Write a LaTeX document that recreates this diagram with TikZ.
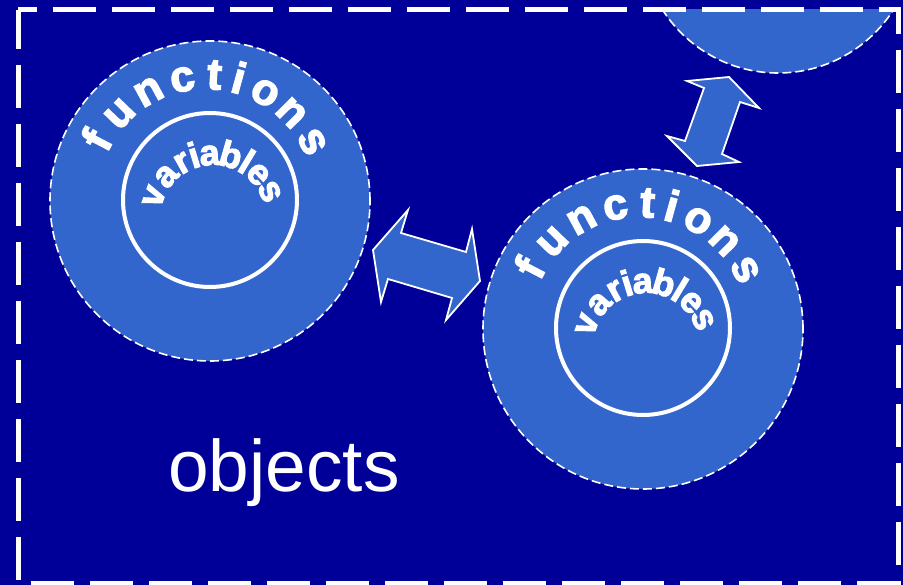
\documentclass[tikz,border=0pt]{standalone}
\usepackage{fontspec}
\setmainfont{Liberation Sans}
\newfontfamily\wordart{Liberation Sans}[BoldFeatures={FakeBold=3}]
\definecolor{bgblue}{RGB}{0,0,153}
\definecolor{discblue}{RGB}{51,102,204}
\tikzset{
  disc/.style={circle, inner sep=0pt, fill=discblue, draw=white, line width=1.6pt,
    dash pattern=on 9pt off 4pt},
  core/.style={circle, inner sep=0pt, draw=white, line width=4pt},
  link/.style={fill=discblue, draw=white, line width=1.8pt, line join=miter},
  frame/.style={draw=white, line width=5pt, dash pattern=on 43pt off 16pt, dash phase=4pt},
  fnletter/.style={text=white, inner sep=0pt, anchor=base,
    font=\wordart\bfseries\fontsize{44}{44}\selectfont},
  varletter/.style={text=white, inner sep=0pt, anchor=base,
    font=\wordart\bfseries\fontsize{36}{36}\selectfont},
  caption/.style={text=white, inner sep=0pt, anchor=base,
    font=\fontsize{73}{73}\selectfont}
}
\newcommand{\arcword}[4]{% style, centre, radius, letter/angle list
  \foreach \ch/\ang in {#4}{
    \node[#1, rotate=\ang-90] at ([shift={(\ang:#3)}]#2) {\ch};
  }%
}
\begin{document}
\begin{tikzpicture}[x=1pt, y=1pt]
  \useasboundingbox (0,0) rectangle (903,-585);
  \fill[bgblue] (0,0) rectangle (903,-585);

  % partly hidden class at the top right
  \begin{scope}
    \clip (0,-10) rectangle (903,-585);
    \node[disc, minimum size=274pt] (discC) at (778,64) {};
  \end{scope}

  % two objects: functions around variables
  \node[disc, minimum size=320pt] (discA) at (210,-201) {};
  \node[core, minimum size=174pt] (coreA) at (210,-200) {};
  \node[disc, minimum size=320pt] (discB) at (643,-329) {};
  \node[core, minimum size=174pt] (coreB) at (643,-328) {};

  \coordinate (fnA) at (206,-197);
  \coordinate (varA) at (213,-218);
  \coordinate (fnB) at (639,-325);
  \coordinate (varB) at (646,-346);

  \foreach \c in {fnA, fnB}{
    \arcword{fnletter}{\c}{108}{f/152.5, u/136, n/118.5, c/101.3, t/86, i/74.5, o/60.5, n/44.6, s/27.5}
  }
  \foreach \c in {varA, varB}{
    \arcword{varletter}{\c}{53}{v/160, a/138, r/119, i/107, a/93, b/74, l/59, e/44, s/25}
  }

  % message arrows
  \draw[link] (373,-250) -- (408,-210) -- (401,-233) -- (466,-252) -- (472,-229)
    -- (480,-281) -- (446,-320) -- (452,-298) -- (388,-279) -- (381,-302) -- cycle;
  \draw[link] (729,-77) -- (759,-108) -- (740,-102) -- (722,-154) -- (739,-162)
    -- (697,-166) -- (667,-136) -- (685,-141) -- (704,-88) -- (687,-81) -- cycle;

  \node[caption] (objects) at (284,-491) {objects};

  \draw[frame] (18,-10) rectangle (898,-583);
\end{tikzpicture}
\end{document}
